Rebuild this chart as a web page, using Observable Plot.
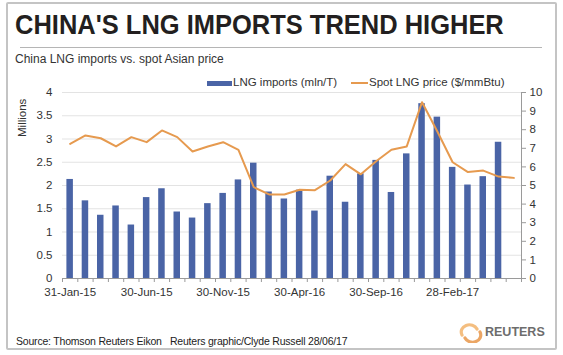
<!DOCTYPE html>
<html>
<head>
<meta charset="utf-8">
<script src="https://cdn.jsdelivr.net/npm/d3@7"></script>
<script src="https://cdn.jsdelivr.net/npm/@observablehq/plot@0.6"></script>
<style>
  html, body { margin: 0; padding: 0; background: #fff; }
  body { font-family: Arial, "Liberation Sans", sans-serif; }
  #wrap { position: relative; width: 563px; height: 355px; overflow: hidden; background: #fff; }
  #frame { position: absolute; left: 6px; top: 2px; width: 551px; height: 348px; border: 2px solid #c4c4c4; border-radius: 2px; box-sizing: border-box; }
  #title { position: absolute; left: 15px; top: 9px; font-size: 28px; font-weight: bold; color: #231f20; white-space: nowrap; transform: scaleX(0.91); transform-origin: left top; }
  #rule { position: absolute; left: 20px; top: 47px; width: 522px; height: 1px; background: #b5b5b5; }
  #subtitle { position: absolute; left: 15px; top: 52px; font-size: 12px; color: #333; white-space: nowrap; }
  #chart { position: absolute; left: 0; top: 68px; }
  .leg { position: absolute; top: 76px; font-size: 11.5px; color: #333; white-space: nowrap; }
  .sw-bar { position: absolute; top: 81px; left: 207px; width: 25px; height: 5px; background: #4a64a6; }
  .sw-line { position: absolute; top: 82px; left: 351px; width: 17px; height: 2px; background: #e69a4f; }
  #millions { position: absolute; left: 16px; font-size: 11.5px; color: #333; transform: rotate(-90deg); transform-origin: left top; white-space: nowrap; }
  #footer { position: absolute; left: 16px; top: 335px; font-size: 10.5px; color: #222; white-space: nowrap; letter-spacing: -0.2px; }
  #logo { position: absolute; left: 458px; top: 323px; }
  #reuters { position: absolute; left: 485px; top: 325px; font-size: 12.5px; font-weight: bold; color: #6d6d6d; letter-spacing: 0px; }
</style>
</head>
<body>
<div id="wrap">
  <div id="frame"></div>
  <div id="title">CHINA'S LNG IMPORTS TREND HIGHER</div>
  <div id="rule"></div>
  <div id="subtitle">China LNG imports vs. spot Asian price</div>
  <div id="chart"></div>
  <div class="sw-bar"></div>
  <div class="leg" style="left:233px">LNG imports (mln/T)</div>
  <div class="sw-line"></div>
  <div class="leg" style="left:369px">Spot LNG price ($/mmBtu)</div>
  <div id="millions" style="top:137px">Millions</div>
  <div id="footer">Source: Thomson Reuters Eikon&nbsp;&nbsp;&nbsp;Reuters graphic/Clyde Russell 28/06/17</div>
  <svg id="logo" width="26" height="20" viewBox="0 0 26 20">
    <path d="M4 12 A8 7 0 0 1 19 6" fill="none" stroke="#f2b36a" stroke-width="3.2" stroke-linecap="round" opacity="0.85"/>
    <path d="M22 9 A8 7 0 0 1 7 15" fill="none" stroke="#e8974a" stroke-width="3.2" stroke-linecap="round" opacity="0.85"/>
  </svg>
  <div id="reuters">REUTERS</div>
</div>
<script>
// Months: Jan-15 .. Jun-17 (30 months)
const months = ["Jan-15","Feb-15","Mar-15","Apr-15","May-15","Jun-15","Jul-15","Aug-15","Sep-15","Oct-15","Nov-15","Dec-15",
                "Jan-16","Feb-16","Mar-16","Apr-16","May-16","Jun-16","Jul-16","Aug-16","Sep-16","Oct-16","Nov-16","Dec-16",
                "Jan-17","Feb-17","Mar-17","Apr-17","May-17","Jun-17"];
// LNG imports (mln tonnes), left axis
const imports = [2.13,1.67,1.36,1.56,1.15,1.74,1.93,1.43,1.30,1.61,1.83,2.12,
                 2.48,1.86,1.71,1.90,1.45,2.20,1.64,2.25,2.54,1.85,2.68,3.76,
                 3.47,2.39,2.01,2.19,2.93,null];
// Spot LNG price ($/mmBtu), right axis
const price = [7.24,7.69,7.54,7.10,7.60,7.33,7.96,7.60,6.83,7.10,7.33,6.92,
               4.91,4.52,4.52,4.77,4.75,5.27,6.15,5.60,6.30,6.92,7.10,9.48,
               7.90,6.25,5.72,5.80,5.48,5.41];
// x tick labels (every 5th month)
const xLabels = ["31-Jan-15","30-Jun-15","30-Nov-15","30-Apr-16","30-Sep-16","28-Feb-17"];
const leftTicks = [0,0.5,1,1.5,2,2.5,3,3.5,4];
const rightTicks = [0,1,2,3,4,5,6,7,8,9,10];

const leftMax = 4, rightMax = 10, k = leftMax / rightMax;
const rows = months.map((m, i) => ({i, m, imp: imports[i], price: price[i]}));
const barRows = rows.filter(d => d.imp != null);
const labelRows = xLabels.map((t, j) => ({t, i: j * 5}));

const axisColor = "#9a9a9a";
const plot = Plot.plot({
  width: 563,
  height: 232,
  marginLeft: 62,
  marginRight: 42,
  marginTop: 24,
  marginBottom: 22,
  style: {fontFamily: "Arial, 'Liberation Sans', sans-serif", fontSize: "11.5px", color: "#333", background: "transparent", overflow: "visible"},
  x: {type: "linear", domain: [0, months.length], axis: null},
  y: {domain: [0, leftMax], axis: null},
  marks: [
    Plot.ruleY(leftTicks.filter(v => v > 0), {stroke: "#e3e3e3", strokeWidth: 1}),
    Plot.rectY(barRows, {x1: d => d.i, x2: d => d.i + 1, y: "imp", insetLeft: 4.4, insetRight: 4.4, fill: "#4a64a6"}),
    Plot.line(rows, {x: d => d.i + 0.5, y: d => d.price * k, stroke: "#e69a4f", strokeWidth: 2, curve: "linear"}),
    Plot.ruleY([0], {stroke: axisColor}),
    Plot.ruleX([months.length], {stroke: axisColor}),
    Plot.axisX({ticks: d3.range(months.length + 1), tickFormat: () => "", tickSize: 4, stroke: axisColor, label: null}),
    Plot.text(labelRows, {x: d => d.i + 0.5, y: 0, text: "t", dy: 14, fontSize: 11.5, fill: "#333"}),
    Plot.axisY({anchor: "left", ticks: leftTicks, tickSize: 0, tickPadding: 10, tickFormat: d => String(d), fill: "#333", fontSize: 11.5, label: null}),
    Plot.axisY({anchor: "right", ticks: rightTicks.map(v => v * k), tickSize: 4, tickPadding: 4, stroke: axisColor,
                tickFormat: d => String(Math.round(d / k)), fill: "#333", fontSize: 11.5, label: null})
  ]
});
document.getElementById("chart").appendChild(plot);
</script>
</body>
</html>
